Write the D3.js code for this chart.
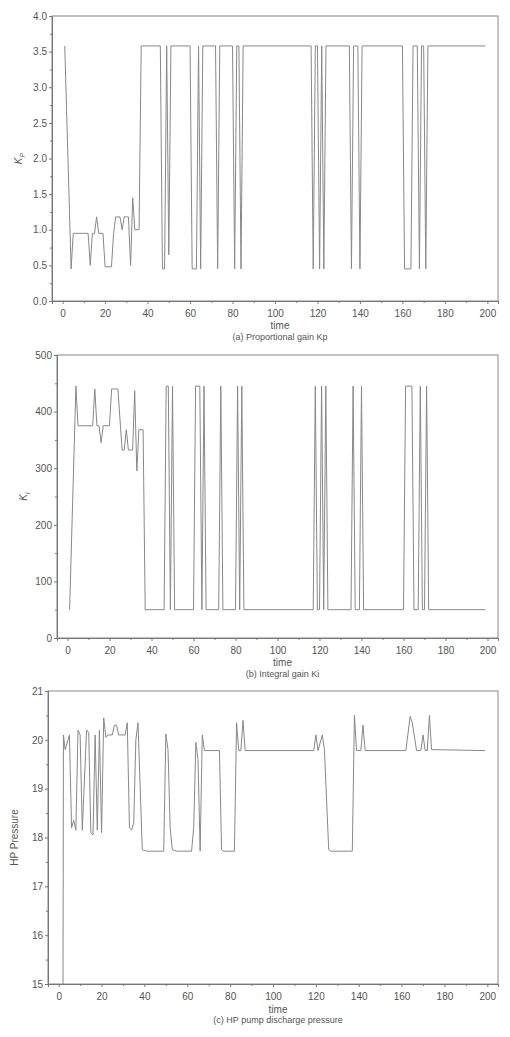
<!DOCTYPE html>
<html><head><meta charset="utf-8">
<script src="https://cdn.jsdelivr.net/npm/d3@7"></script>
<style>body{margin:0;background:#fff}</style>
</head><body>
<svg id="chart" width="510" height="1037"></svg>
<script>
// Proportional gain Kp (breakpoints)
const kpT = [1,4,5,12,13,14,15,16,17,19,20,23,24,25,27,28,29,31,32,33,34,36,37,46,47,48,49,50,51,60,61,63,64,65,66,72,73,74,80,81,82,83,84,85,117,118,119,120,121,122,123,124,135,136,137,139,140,141,160,161,164,165,166,167,168,169,170,171,172,199];
const kpV = [3.58,0.45,0.95,0.95,0.5,0.95,0.95,1.18,0.95,0.95,0.48,0.48,0.95,1.18,1.18,1.0,1.18,1.18,0.5,1.45,1.0,1.0,3.58,3.58,0.45,0.45,3.58,0.65,3.58,3.58,0.45,0.45,3.58,0.45,3.58,3.58,0.45,3.58,3.58,0.45,3.58,3.58,0.45,3.58,3.58,0.45,3.58,3.58,0.45,3.58,0.45,3.58,3.58,0.45,3.58,3.58,0.45,3.58,3.58,0.45,0.45,3.58,3.58,3.58,0.45,3.58,3.58,0.45,3.58,3.58];
// Integral gain Ki (breakpoints)
const kiT = [1,4,5,12,13,14,15,16,17,20,21,23,24,26,27,28,29,31,32,33,34,36,37,46,47,48,49,50,51,60,61,63,64,65,66,72,73,74,80,81,82,83,84,117,118,119,120,121,122,123,124,135,136,137,139,140,141,160,161,164,165,167,168,169,170,171,172,199];
const kiV = [50,445,375,375,440,375,375,345,375,375,440,440,440,332,332,368,332,332,437,295,368,368,50,50,445,445,50,445,50,50,445,445,50,445,50,50,445,50,50,445,50,445,50,50,445,50,50,445,50,445,50,50,445,50,50,445,50,50,445,445,50,50,445,50,50,445,50,50];
// HP pump discharge pressure (breakpoints)
const hpT = [2,2.2,3,5,6,7,8,9,10,11,13,14,15,16,17,18,19,20,21,22,23,25,26,27,28,31,32,33,34,35,36,37,39,41,49,50,51,52,53,55,62,63,64,65,66,67,68,75,76,77,82,83,84,85,86,87,119,120,121,123,124,126,127,137,138,139,141,142,143,162,164,165,167,169,170,171,172,173,174,199];
const hpV = [15,20.1,19.8,20.1,18.2,18.35,18.15,20.2,20.1,18.15,20.2,20.15,18.1,18.05,20.1,18.15,20.2,18.1,20.45,20.05,20.1,20.1,20.3,20.3,20.1,20.1,20.35,18.2,18.15,18.3,20.0,20.35,17.75,17.72,17.72,20.12,19.8,18.2,17.75,17.72,17.72,18.2,19.95,19.6,17.72,20.1,19.78,19.78,17.75,17.72,17.72,20.35,19.78,19.78,20.4,19.78,19.78,20.1,19.78,20.1,19.8,17.75,17.72,17.72,20.5,19.78,19.78,20.3,19.78,19.78,20.48,20.35,19.78,19.78,20.1,19.78,19.78,20.5,19.8,19.78];

const xTicks = [0,20,40,60,80,100,120,140,160,180,200];

const panels = [
  {t: kpT, v: kpV, left: 52, top: 16, bottom: 301, dom: [0,4], ticks: [0,0.5,1,1.5,2,2.5,3,3.5,4], fmt: d3.format(".1f"), minor: 0.25,
   ylab: "K", sub: "P", time: 329, cap: "(a) Proportional gain Kp", capY: 340},
  {t: kiT, v: kiV, left: 57, top: 355, bottom: 638, dom: [0,500], ticks: [0,100,200,300,400,500], fmt: d3.format("d"), minor: 50,
   ylab: "K", sub: "I", time: 666, cap: "(b) Integral gain Ki", capY: 677},
  {t: hpT, v: hpV, left: 48, top: 691, bottom: 984, dom: [15,21], ticks: [15,16,17,18,19,20,21], fmt: d3.format("d"), minor: 0.5,
   ylab: "HP Pressure", time: 1013, cap: "(c) HP pump discharge pressure", capY: 1023}
];

const svg = d3.select("#chart");
const right = 498;
const ink = "#555";

panels.forEach(p => {
  const x = d3.scaleLinear().domain([-5,205]).range([p.left, right]);
  const y = d3.scaleLinear().domain(p.dom).range([p.bottom, p.top]);
  const g = svg.append("g").attr("font-family", "Liberation Sans, Arial, sans-serif");

  // frame
  g.append("rect").attr("x", p.left).attr("y", p.top)
    .attr("width", right - p.left).attr("height", p.bottom - p.top)
    .attr("fill", "none").attr("stroke", "#888").attr("stroke-width", 1);

  const xa = g.append("g").attr("transform", `translate(0,${p.bottom})`)
    .call(d3.axisBottom(x).tickValues(xTicks).tickSize(3).tickPadding(6));
  g.append("g").attr("transform", `translate(0,${p.bottom})`)
    .call(d3.axisBottom(x).tickValues(d3.range(10,200,20)).tickSize(2).tickFormat(""));
  const ya = g.append("g").attr("transform", `translate(${p.left},0)`)
    .call(d3.axisLeft(y).tickValues(p.ticks).tickFormat(p.fmt).tickSize(3).tickPadding(2));
  g.append("g").attr("transform", `translate(${p.left},0)`)
    .call(d3.axisLeft(y).tickValues(d3.range(p.dom[0]+p.minor, p.dom[1], p.minor*2)).tickSize(2).tickFormat(""));
  g.selectAll(".domain").attr("stroke", "#777");
  g.selectAll(".tick line").attr("stroke", "#777");
  g.selectAll(".tick text").attr("fill", ink).attr("font-size", 10);

  const line = d3.line().x((d, i) => x(p.t[i])).y(d => y(d));
  g.append("path").datum(p.v).attr("d", line)
    .attr("fill", "none").attr("stroke", "#888").attr("stroke-width", 1);

  const cy = (p.top + p.bottom) / 2;
  const yl = g.append("text").attr("transform", `translate(${p.left - 30},${cy}) rotate(-90)`)
    .attr("text-anchor", "middle").attr("fill", ink).attr("font-size", 10);
  if (p.sub) {
    yl.append("tspan").attr("font-style", "italic").text(p.ylab);
    yl.append("tspan").attr("font-size", 7).attr("dy", 3).attr("font-style", "italic").text(p.sub);
  } else yl.text(p.ylab);

  g.append("text").attr("x", (p.left + right) / 2 + 5).attr("y", p.time)
    .attr("text-anchor", "middle").attr("fill", ink).attr("font-size", 10).text("time");
  g.append("text").attr("x", (p.left + right) / 2 + 5).attr("y", p.capY)
    .attr("text-anchor", "middle").attr("fill", ink).attr("font-size", 9).text(p.cap);
});
</script>
</body></html>
